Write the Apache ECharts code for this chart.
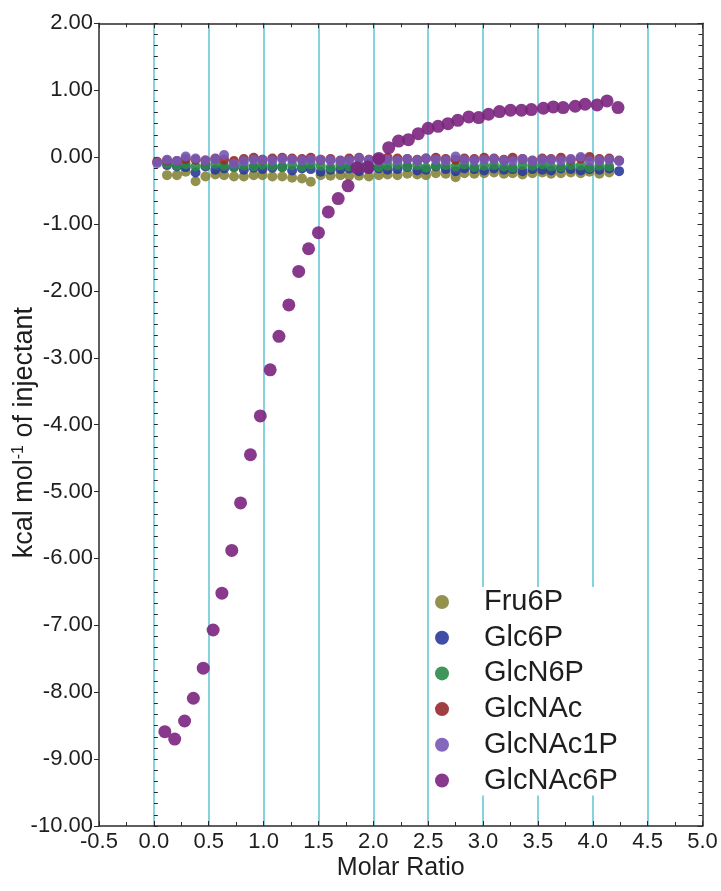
<!DOCTYPE html>
<html>
<head>
<meta charset="utf-8">
<script src="https://cdn.jsdelivr.net/npm/echarts@6/dist/echarts.min.js"></script>
<style>
html,body{margin:0;padding:0;background:#fff;}
#chart{width:721px;height:891px;}
</style>
</head>
<body>
<div id="chart"></div>
<script>
// ---- data ----
const seriesNames = ['Fru6P', 'Glc6P', 'GlcN6P', 'GlcNAc', 'GlcNAc1P', 'GlcNAc6P'];
const xTickLabels = ['-0.5','0.0','0.5','1.0','1.5','2.0','2.5','3.0','3.5','4.0','4.5','5.0'];

// molar ratio of the injections for the flat (non-binding) titrations
const molarRatioFlat = [0.03,0.12,0.21,0.29,0.38,0.47,0.56,0.64,0.73,0.82,0.91,0.99,1.08,1.17,1.26,1.35,1.43,1.52,1.61,1.70,1.78,1.87,1.96,2.05,2.13,2.22,2.31,2.40,2.48,2.57,2.66,2.75,2.83,2.92,3.01,3.10,3.19,3.27,3.36,3.45,3.54,3.62,3.71,3.80,3.89,3.97,4.06,4.15,4.24];

const fru6pX = molarRatioFlat.slice(1, 48);
const fru6pY = [-0.27,-0.27,-0.22,-0.36,-0.29,-0.26,-0.27,-0.29,-0.29,-0.27,-0.27,-0.29,-0.29,-0.31,-0.32,-0.37,-0.27,-0.28,-0.27,-0.28,-0.28,-0.29,-0.27,-0.26,-0.27,-0.25,-0.26,-0.27,-0.24,-0.25,-0.30,-0.24,-0.25,-0.24,-0.23,-0.25,-0.24,-0.26,-0.24,-0.23,-0.25,-0.24,-0.23,-0.24,-0.22,-0.25,-0.23];

const glc6pX = molarRatioFlat.slice(1);
const glc6pY = [-0.12,-0.14,-0.15,-0.23,-0.14,-0.19,-0.17,-0.15,-0.19,-0.16,-0.18,-0.16,-0.15,-0.20,-0.17,-0.18,-0.22,-0.19,-0.18,-0.17,-0.21,-0.18,-0.17,-0.19,-0.18,-0.15,-0.20,-0.19,-0.14,-0.18,-0.21,-0.17,-0.18,-0.20,-0.17,-0.19,-0.18,-0.21,-0.18,-0.19,-0.20,-0.17,-0.18,-0.20,-0.18,-0.19,-0.17,-0.21];

const glcn6pX = molarRatioFlat.slice(1, 48);
const glcn6pY = [-0.10,-0.13,-0.11,-0.14,-0.12,-0.10,-0.13,-0.15,-0.12,-0.14,-0.11,-0.13,-0.15,-0.12,-0.14,-0.11,-0.13,-0.16,-0.12,-0.14,-0.13,-0.12,-0.15,-0.13,-0.11,-0.14,-0.12,-0.16,-0.13,-0.12,-0.14,-0.11,-0.15,-0.13,-0.12,-0.14,-0.16,-0.12,-0.13,-0.11,-0.14,-0.15,-0.12,-0.13,-0.16,-0.13,-0.14];

const glcnacX = molarRatioFlat;
const glcnacY = [-0.07,-0.05,-0.06,-0.03,-0.04,-0.05,-0.02,-0.04,-0.06,-0.03,-0.01,-0.04,-0.02,-0.01,-0.02,-0.03,-0.01,-0.04,-0.03,-0.05,-0.02,-0.01,-0.04,-0.02,-0.01,-0.02,-0.03,-0.04,-0.02,-0.01,-0.03,-0.04,-0.02,-0.03,-0.01,-0.02,-0.04,-0.01,-0.03,-0.05,-0.02,-0.03,-0.01,-0.04,-0.02,0.00,-0.03,-0.02,-0.05];

const glcnac1pX = molarRatioFlat;
const glcnac1pY = [-0.09,-0.04,-0.06,0.01,-0.02,-0.05,-0.03,0.03,-0.10,-0.06,-0.04,-0.04,-0.05,-0.03,-0.04,-0.05,-0.04,-0.04,-0.05,-0.06,-0.05,-0.02,-0.04,-0.06,-0.04,-0.05,-0.03,-0.05,-0.02,-0.04,-0.05,0.01,-0.04,-0.05,-0.04,-0.03,-0.05,-0.06,-0.03,-0.06,-0.04,-0.04,-0.05,-0.03,0.00,-0.06,-0.05,-0.04,-0.06];

const glcnac6pX = [0.10,0.19,0.28,0.36,0.45,0.54,0.62,0.71,0.79,0.88,0.97,1.06,1.14,1.23,1.32,1.41,1.50,1.59,1.68,1.77,1.85,1.95,2.05,2.14,2.23,2.32,2.41,2.50,2.59,2.68,2.77,2.87,2.96,3.05,3.15,3.25,3.35,3.44,3.55,3.64,3.73,3.84,3.93,4.04,4.13,4.23];
const glcnac6pY = [-8.59,-8.70,-8.43,-8.09,-7.64,-7.07,-6.52,-5.88,-5.17,-4.45,-3.87,-3.18,-2.68,-2.21,-1.71,-1.37,-1.13,-0.82,-0.62,-0.43,-0.16,-0.15,-0.02,0.14,0.24,0.26,0.35,0.43,0.46,0.50,0.55,0.60,0.59,0.64,0.68,0.70,0.70,0.71,0.73,0.75,0.74,0.76,0.79,0.78,0.84,0.74];

const seriesColors = ['#86853a', '#2b3a9a', '#2a8a48', '#952a2c', '#7658b6', '#7b247e'];
const seriesSizes = [10, 10, 10, 10, 10, 13];

// ---- build ----
function zip(xs, ys) {
  const n = Math.min(xs.length, ys.length);
  const out = [];
  for (let i = 0; i < n; i++) out.push([xs[i], ys[i]]);
  return out;
}
const seriesXY = [
  [fru6pX, fru6pY],
  [glc6pX, glc6pY],
  [glcn6pX, glcn6pY],
  [glcnacX, glcnacY],
  [glcnac1pX, glcnac1pY],
  [glcnac6pX, glcnac6pY]
];

const FONT = '"Liberation Sans", Arial, sans-serif';
const AXIS_COLOR = '#2a2a2a';
const TEXT_COLOR = '#1e1e1e';
const GRID_COLOR = '#86d3df';

const chart = echarts.init(document.getElementById('chart'), null, {renderer: 'canvas'});

const baseX = {
  type: 'value', min: -0.5, max: 5, interval: 0.5,
  axisLine: {show: true, onZero: false, lineStyle: {color: AXIS_COLOR, width: 1.5}},
  splitLine: {show: false},
  minorSplitLine: {show: false}
};
const baseY = {
  type: 'value', min: -10, max: 2, interval: 1,
  axisLine: {show: true, onZero: false, lineStyle: {color: AXIS_COLOR, width: 1.5}},
  splitLine: {show: false},
  minorSplitLine: {show: false}
};

const option = {
  animation: false,
  backgroundColor: '#ffffff',
  grid: {left: 99, right: 18.5, top: 23.3, bottom: 65, containLabel: false, outerBoundsMode: 'none'},
  xAxis: [
    Object.assign({}, baseX, {
      position: 'bottom',
      name: 'Molar Ratio', nameLocation: 'middle', nameGap: 30, nameMoveOverlap: false,
      nameTextStyle: {fontFamily: FONT, fontSize: 25, color: TEXT_COLOR},
      axisTick: {show: true, inside: true, length: 5, lineStyle: {color: AXIS_COLOR}},
      minorTick: {show: true, splitNumber: 2, length: 4, lineStyle: {color: AXIS_COLOR}},
      axisLabel: {
        show: true, margin: 5, fontFamily: FONT, fontSize: 22, color: TEXT_COLOR,
        formatter: function (v) {
          const idx = Math.round((v + 0.5) / 0.5);
          return xTickLabels[idx] !== undefined ? xTickLabels[idx] : '';
        }
      },
      splitLine: {show: true, showMinLine: false, showMaxLine: false, lineStyle: {color: GRID_COLOR, width: 2}}
    }),
    Object.assign({}, baseX, {
      position: 'top',
      axisTick: {show: true, inside: true, length: 5, lineStyle: {color: AXIS_COLOR}},
      minorTick: {show: true, splitNumber: 2, length: 4, lineStyle: {color: AXIS_COLOR}},
      axisLabel: {show: false}
    })
  ],
  yAxis: [
    Object.assign({}, baseY, {
      position: 'left',
      name: '{a|kcal mol}{s|-1}{a| of injectant}',
      nameLocation: 'middle', nameGap: 61, nameRotate: 90, nameMoveOverlap: false,
      nameTextStyle: {
        padding: [0, 16, 0, 0],
        rich: {
          a: {fontFamily: FONT, fontSize: 27, color: TEXT_COLOR},
          s: {fontFamily: FONT, fontSize: 16, color: TEXT_COLOR, verticalAlign: 'top'}
        }
      },
      axisTick: {show: true, inside: false, length: 5, lineStyle: {color: AXIS_COLOR}},
      minorTick: {show: false},
      axisLabel: {
        show: true, margin: 6, fontFamily: FONT, fontSize: 22, color: TEXT_COLOR,
        formatter: function (v) { return v.toFixed(2); }
      }
    }),
    Object.assign({}, baseY, {
      position: 'left',
      axisLine: {show: false},
      axisTick: {show: true, inside: true, length: 4, lineStyle: {color: AXIS_COLOR}},
      minorTick: {show: true, splitNumber: 6, length: 4, lineStyle: {color: AXIS_COLOR}},
      axisLabel: {show: false}
    }),
    Object.assign({}, baseY, {
      position: 'right',
      axisTick: {show: true, inside: true, length: 5, lineStyle: {color: AXIS_COLOR}},
      minorTick: {show: true, splitNumber: 6, length: 4, lineStyle: {color: AXIS_COLOR}},
      axisLabel: {show: false}
    })
  ],
  legend: {
    orient: 'vertical',
    left: 435, top: 587,
    padding: [0, 20, 0, 0],
    backgroundColor: '#ffffff',
    itemWidth: 14, itemHeight: 14, itemGap: 5.7,
    icon: 'circle',
    data: seriesNames,
    textStyle: {fontFamily: FONT, fontSize: 29, color: TEXT_COLOR, lineHeight: 30, padding: [0, 0, 0, 30]}
  },
  series: seriesNames.map(function (name, i) {
    return {
      name: name,
      type: 'scatter',
      xAxisIndex: 0, yAxisIndex: 0,
      symbol: 'circle',
      symbolSize: seriesSizes[i],
      itemStyle: {color: seriesColors[i], opacity: 0.9},
      data: zip(seriesXY[i][0], seriesXY[i][1]),
      z: 2 + i
    };
  })
};
chart.setOption(option);
</script>
</body>
</html>
